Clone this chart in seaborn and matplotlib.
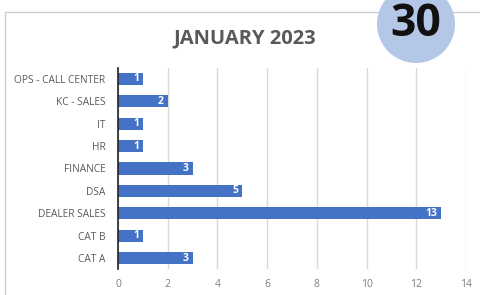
import matplotlib
matplotlib.use("Agg")
import matplotlib.pyplot as plt
import seaborn as sns
import pandas as pd
from matplotlib.patches import Circle, Rectangle

categories = ["OPS - CALL CENTER", "KC - SALES", "IT", "HR", "FINANCE", "DSA",
              "DEALER SALES", "CAT B", "CAT A"]
values = [1, 2, 1, 1, 3, 5, 13, 1, 3]
x_ticks = [0, 2, 4, 6, 8, 10, 12, 14]
title = "JANUARY 2023"
badge = "30"

sns.set_theme(style="white")
plt.rcParams["font.family"] = ["Open Sans", "DejaVu Sans"]

df = pd.DataFrame({"cat": categories, "val": values})

fig = plt.figure(figsize=(4.8, 2.95), dpi=100)
fig.patch.set_facecolor("white")

# outer chart border
fig.add_artist(Rectangle((5 / 480, -0.1), 1.2, (295 - 12) / 295 + 0.1,
                         transform=fig.transFigure, fill=False,
                         edgecolor="#d0d0d0", linewidth=1.0))

ax = fig.add_axes([118 / 480, 1 - 269.2 / 295, 348 / 480, (269.2 - 67.8) / 295])
sns.barplot(data=df, y="cat", x="val", orient="h", color="#4472c4",
            saturation=1, width=0.54, ax=ax, edgecolor="none")
ax.set_xlim(0, 14)
ax.set_xticks(x_ticks)
ax.set_xticklabels([str(t) for t in x_ticks], fontsize=7.5, color="#7f7f7f")
ax.tick_params(axis="y", labelsize=7.3, labelcolor="#595959", length=0, pad=9)
ax.tick_params(axis="x", length=0, pad=7)
ax.set_xlabel("")
ax.set_ylabel("")
ax.grid(axis="x", color="#d9d9d9", linewidth=1.0)
ax.set_axisbelow(True)
for s in ["top", "right", "bottom"]:
    ax.spines[s].set_visible(False)
ax.spines["left"].set_color("#222222")
ax.spines["left"].set_linewidth(1.2)
ax.set_zorder(1)

for i, v in enumerate(values):
    ax.text(v - 0.15, i, str(v), ha="right", va="center", color="white",
            fontsize=7.5, fontweight="bold")

fig.text(245 / 480, 1 - 38 / 295, title, ha="center", va="center",
         fontsize=14.5, fontweight="bold", color="#595959")

# badge circle
fig.add_artist(Circle((416, 295 - 24), 39, transform=None,
                      facecolor="#b4c7e7", edgecolor="none", zorder=5))
fig.text(416 / 480, 1 - 24 / 295, badge, ha="center", va="center",
         fontsize=32, fontweight="bold", color="#111111", zorder=6)

fig.savefig("out.png", dpi=100)
